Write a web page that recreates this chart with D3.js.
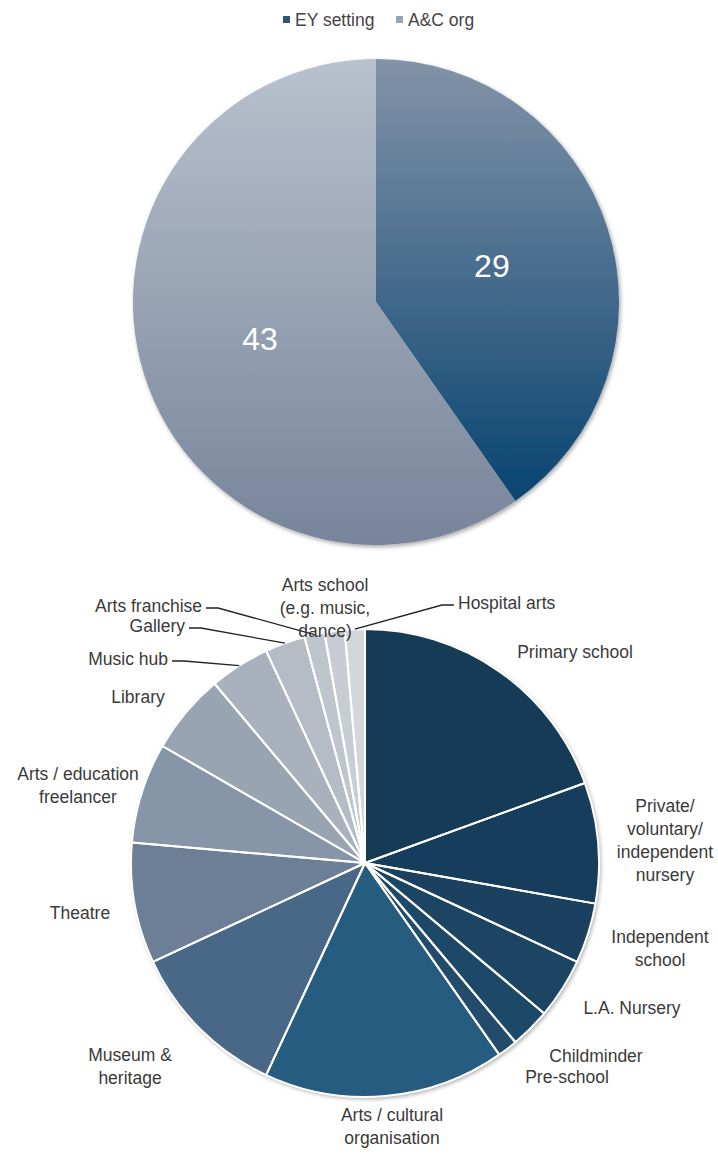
<!DOCTYPE html>
<html>
<head>
<meta charset="utf-8">
<script src="https://cdn.jsdelivr.net/npm/d3@7"></script>
<style>
  html, body { margin: 0; padding: 0; background: #ffffff; }
  svg { display: block; font-family: "Liberation Sans", Arial, Helvetica, sans-serif; }
</style>
</head>
<body>
<svg id="chart" width="718" height="1157"></svg>
<script>
// Summary: who led the project
const groupNames = ["EY setting", "A&C org"];
const groupCounts = [29, 43];

// Breakdown by organisation type (EY settings first, then arts & cultural orgs)
const orgTypes = [
  "Primary school",
  "Private/\nvoluntary/\nindependent\nnursery",
  "Independent\nschool",
  "L.A. Nursery",
  "Childminder",
  "Pre-school",
  "Arts / cultural\norganisation",
  "Museum &\nheritage",
  "Theatre",
  "Arts / education\nfreelancer",
  "Library",
  "Music hub",
  "Gallery",
  "Arts franchise",
  "Arts school\n(e.g. music,\ndance)",
  "Hospital arts"
];
const orgCounts = [14, 6, 3, 3, 2, 1, 12, 8, 6, 5, 4, 3, 2, 1, 1, 1];

// ---- styles ----
const groupGradients = [
  { top: "#8393a8", bottom: "#084470" },
  { top: "#b8c1cd", bottom: "#77849a" }
];
const legendColors = ["#2f5579", "#99a5b6"];
const orgColors = [
  "#163a56", "#183e5c", "#1a4160", "#1c4464", "#1e4868", "#204b6c",
  "#275c80", "#4a6887", "#6d7f97", "#8795a8", "#99a4b3", "#a9b1bd",
  "#b5bcc6", "#bfc5cd", "#c8cdd4", "#d3d7dc"
];
// label anchor offsets from the lower pie's centre: [dx, dy, anchor, leader]
const orgLabelLayout = [
  [210, -211, "middle", false],
  [300, -57, "middle", false],
  [295, 74, "middle", false],
  [267, 145, "middle", false],
  [231, 193, "middle", false],
  [202, 214, "middle", false],
  [27, 252, "middle", false],
  [-235, 192, "middle", false],
  [-285, 50, "middle", false],
  [-287, -89, "middle", false],
  [-227, -166, "middle", false],
  [-197, -204, "end", true],
  [-180, -237, "end", true],
  [-163, -257, "end", true],
  [-40, -278, "middle", false],
  [93, -260, "start", true]
];

const labelFont = 17.5;

const svg = d3.select("#chart");
const defs = svg.append("defs");

// soft shadow under each pie
const shadow = defs.append("filter").attr("id", "pieShadow")
  .attr("x", "-10%").attr("y", "-10%").attr("width", "120%").attr("height", "120%");
shadow.append("feDropShadow")
  .attr("dx", 1.5).attr("dy", 2).attr("stdDeviation", 2.2)
  .attr("flood-color", "#000").attr("flood-opacity", 0.35);

groupGradients.forEach((g, i) => {
  const lg = defs.append("linearGradient").attr("id", "grad" + i)
    .attr("x1", 0).attr("y1", 0).attr("x2", 0).attr("y2", 1);
  lg.append("stop").attr("offset", "0%").attr("stop-color", g.top);
  lg.append("stop").attr("offset", "100%").attr("stop-color", g.bottom);
});

// ---- legend ----
const legend = svg.append("g").attr("transform", "translate(283,20)");
const legendX = [0, 113];
groupNames.forEach((name, i) => {
  const item = legend.append("g").attr("transform", `translate(${legendX[i]},0)`);
  item.append("rect").attr("x", 0).attr("y", -4).attr("width", 7).attr("height", 7)
    .attr("fill", legendColors[i]);
  item.append("text").attr("x", 12).attr("y", 0).attr("dy", "0.35em")
    .attr("font-size", labelFont).attr("fill", "#444").text(name);
});

// ---- upper pie ----
const topR = 243;
const topPie = d3.pie().sort(null).value(d => d)(groupCounts);
const topArc = d3.arc().innerRadius(0).outerRadius(topR);
const gTop = svg.append("g").attr("transform", "translate(376,302)");
gTop.append("g").attr("filter", "url(#pieShadow)")
  .selectAll("path").data(topPie).join("path")
  .attr("d", topArc)
  .attr("fill", (d, i) => `url(#grad${i})`);
gTop.selectAll("text").data(topPie).join("text")
  .attr("transform", d => `translate(${topArc.centroid(d)})`)
  .attr("text-anchor", "middle").attr("dy", "0.35em")
  .attr("font-size", 32).attr("fill", "#ffffff")
  .text(d => d.data);

// ---- lower pie ----
const botR = 234;
const cx = 365, cy = 863;
const botPie = d3.pie().sort(null).value(d => d)(orgCounts);
const botArc = d3.arc().innerRadius(0).outerRadius(botR);
const gBot = svg.append("g").attr("transform", `translate(${cx},${cy})`);
gBot.append("g").attr("filter", "url(#pieShadow)")
  .selectAll("path").data(botPie).join("path")
  .attr("d", botArc)
  .attr("fill", (d, i) => orgColors[i]);
gBot.append("g").selectAll("path").data(botPie).join("path")
  .attr("d", botArc)
  .attr("fill", "none")
  .attr("stroke", "#ffffff").attr("stroke-width", 2).attr("stroke-linejoin", "round");

const lineH = 23;
botPie.forEach((d, i) => {
  const [dx, dy, anchor, leader] = orgLabelLayout[i];
  const lines = orgTypes[i].split("\n");
  const t = gBot.append("text")
    .attr("text-anchor", anchor)
    .attr("font-size", labelFont).attr("fill", "#3a3a3a");
  lines.forEach((ln, k) => {
    t.append("tspan").attr("x", dx).attr("y", dy + k * lineH).attr("dy", "0.35em").text(ln);
  });
  if (leader) {
    const mid = (d.startAngle + d.endAngle) / 2;
    const px = botR * Math.sin(mid), py = -botR * Math.cos(mid);
    const dir = anchor === "end" ? 1 : -1;
    const sx = dx + dir * 4, sy = dy + 2;
    gBot.append("polyline")
      .attr("points", [[sx, sy], [sx + dir * 12, sy], [px, py]].map(p => p.join(",")).join(" "))
      .attr("fill", "none").attr("stroke", "#222").attr("stroke-width", 1.3);
  }
});
</script>
</body>
</html>
